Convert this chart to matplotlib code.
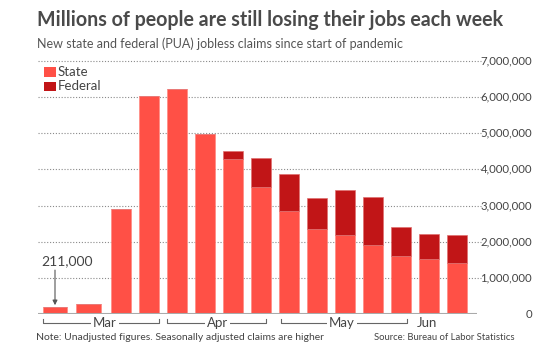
import matplotlib
matplotlib.use("Agg")
import matplotlib.pyplot as plt
import matplotlib.transforms as mtransforms
from matplotlib.patches import Rectangle

plt.rcParams['font.family'] = ['Lato', 'DejaVu Sans']

# ---- data ----
weeks = ["Mar 7", "Mar 14", "Mar 21", "Mar 28", "Apr 4", "Apr 11", "Apr 18", "Apr 25",
         "May 2", "May 9", "May 16", "May 23", "May 30", "Jun 6", "Jun 13"]
state = [211000, 284000, 2920000, 6030000, 6220000, 4970000, 4290000, 3520000,
         2860000, 2360000, 2180000, 1910000, 1610000, 1540000, 1410000]
federal = [0, 0, 0, 0, 0, 0, 220000, 790000,
           1010000, 850000, 1250000, 1320000, 810000, 690000, 770000]
yticks = [0, 1000000, 2000000, 3000000, 4000000, 5000000, 6000000, 7000000]
months = ["Mar", "Apr", "May", "Jun"]

STATE_C = "#FF5046"
FED_C = "#C11517"
TXT = "#444444"

W, H = 557, 347
fig = plt.figure(figsize=(W / 100, H / 100), dpi=100)

# axes placed in pixel space
ax_l, ax_r, ax_b, ax_t = 38, 477, 314.3, 57.1
ax = fig.add_axes([ax_l / W, (H - ax_b) / H, (ax_r - ax_l) / W, (ax_b - ax_t) / H])

# bar positions (first two bars are wider / offset as in the original)
xpos = [-0.357, 0.839] + list(range(2, len(weeks)))
widths = [0.86, 0.88] + [0.72] * (len(weeks) - 2)

ax.bar(xpos, state, width=widths, color=STATE_C, edgecolor="#FF8A82", linewidth=0.5, zorder=3)
ax.bar(xpos, federal, width=widths, bottom=state, color=FED_C, edgecolor="#E07070",
       linewidth=0.5, zorder=3)

ax.set_xlim(-0.964, 14.71)
ax.set_ylim(0, 7100000)
for s in ax.spines.values():
    s.set_visible(False)
ax.set_xticks([])
ax.set_yticks([])

# gridlines
for v in yticks[1:]:
    ax.axhline(v, color="#8a8a8a", lw=0.8, ls=(0, (1, 1.6)), zorder=1, clip_on=False,
               xmin=0, xmax=1.01)
ax.axhline(0, color="#aaaaaa", lw=1.5, zorder=4)

# y tick labels right-aligned at pixel x=532
tr = mtransforms.blended_transform_factory(fig.transFigure, ax.transData)
for v in yticks:
    lab = f"{v:,}"
    ax.text(532 / W, v, lab, transform=tr, ha="right", va="center", fontsize=8.2, color=TXT)

# month brackets (below axis)
trx = mtransforms.blended_transform_factory(ax.transData, fig.transFigure)
yb = (H - 323) / H
ytk = (H - 319) / H
brackets = [(-0.78, 3.34, 1.43), (3.64, 7.17, 5.45), (7.71, 12.2, 9.89)]
for (x0, x1, xc), m in zip(brackets, months[:3]):
    ax.plot([x0, x0, x1, x1], [ytk, yb, yb, ytk], transform=trx, color="#666666",
            lw=0.8, clip_on=False)
    ax.text(xc, yb, m, transform=trx, ha="center", va="center", fontsize=9.5,
            color=TXT, bbox=dict(facecolor="white", edgecolor="none", pad=1.5))
ax.text(12.93, yb, months[3], transform=trx, ha="center", va="center", fontsize=9.5, color=TXT)

# annotation
ax.text(-0.857, 1470000, f"{state[0]:,}", ha="left", va="center", fontsize=10, color=TXT)
ax.annotate("", xy=(-0.357, state[0] + 40000), xytext=(-0.357, 1220000),
            arrowprops=dict(arrowstyle="-|>", color="#555555", lw=0.8,
                            mutation_scale=7, shrinkA=0, shrinkB=0),
            annotation_clip=False)

# legend
for i, (lab, c) in enumerate([("State", STATE_C), ("Federal", FED_C)]):
    y0 = 67 + i * 14.5
    fig.patches.append(Rectangle((44 / W, (H - y0 - 9.5) / H), 12 / W, 9.5 / H,
                                 transform=fig.transFigure, facecolor=c, edgecolor="none"))
    fig.text(58 / W, (H - y0 - 4.8) / H, lab, ha="left", va="center", fontsize=9.5, color=TXT)

# titles
fig.text(37 / W, (H - 20) / H, "Millions of people are still losing their jobs each week",
         ha="left", va="center", fontsize=14.1, fontweight="bold", color="#4a4a4a")
fig.text(37 / W, (H - 44) / H, "New state and federal (PUA) jobless claims since start of pandemic",
         ha="left", va="center", fontsize=9.0, color="#555555")

# notes
fig.text(36 / W, (H - 337) / H, "Note: Unadjusted figures. Seasonally adjusted claims are higher",
         ha="left", va="center", fontsize=7.45, color=TXT)
fig.text(514 / W, (H - 337) / H, "Source: Bureau of Labor Statistics",
         ha="right", va="center", fontsize=6.8, color=TXT)

fig.savefig("out.png", dpi=100)
